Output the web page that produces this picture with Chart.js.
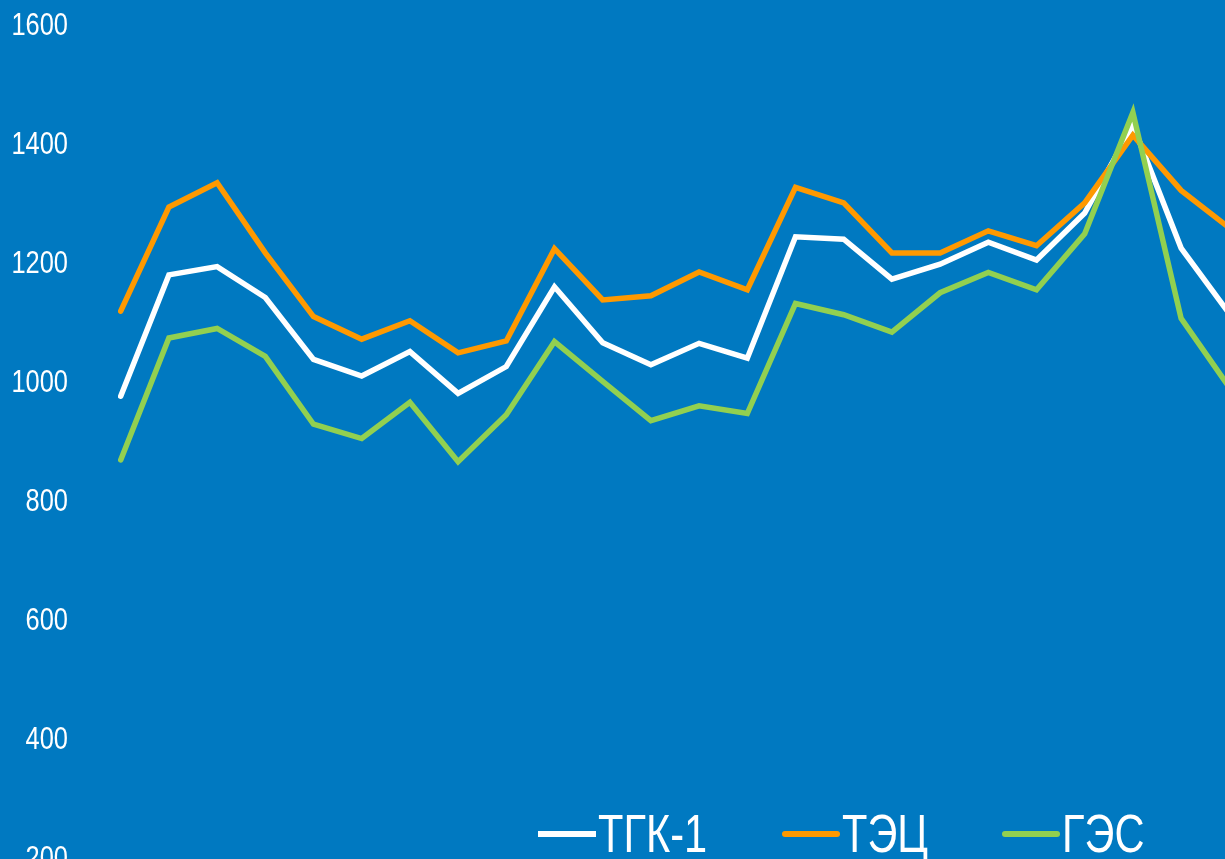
<!DOCTYPE html>
<html>
<head>
<meta charset="utf-8">
<script src="https://cdn.jsdelivr.net/npm/chart.js@4.4.1/dist/chart.umd.min.js"></script>
<style>
  html, body { margin: 0; padding: 0; overflow: hidden; background: #0079c1; }
  #wrap { position: absolute; left: 0; top: 0; width: 1245px; height: 1000px; }
</style>
</head>
<body>
<div id="wrap"><canvas id="chart"></canvas></div>
<script>
const months = [
  "01.2016", "02.2016", "03.2016", "04.2016", "05.2016", "06.2016",
  "07.2016", "08.2016", "09.2016", "10.2016", "11.2016", "12.2016",
  "01.2017", "02.2017", "03.2017", "04.2017", "05.2017", "06.2017",
  "07.2017", "08.2017", "09.2017", "10.2017", "11.2017", "12.2017"
];
const seriesNames = ["ТГК-1", "ТЭЦ", "ГЭС"];
const tgk = [976, 1180, 1194, 1142, 1038, 1010, 1051, 981, 1026, 1160, 1066, 1029,
  1065, 1040, 1244, 1240, 1173, 1198, 1235, 1205, 1284, 1432, 1225, 1115];
const tec = [1119, 1294, 1335, 1217, 1110, 1072, 1103, 1049, 1069, 1224, 1138, 1145,
  1185, 1155, 1327, 1301, 1217, 1217, 1254, 1229, 1301, 1415, 1322, 1259];
const ges = [869, 1074, 1090, 1043, 929, 905, 966, 866, 945, 1068, 1001, 935,
  960, 947, 1132, 1113, 1084, 1150, 1184, 1155, 1249, 1453, 1107, 991];
const yTicks = [0, 200, 400, 600, 800, 1000, 1200, 1400, 1600];
const colors = ["#ffffff", "#ff9900", "#92d050"];

// no narrow face installed, so squeeze Liberation Sans by hand
const FONT = "'Liberation Sans', Arial, sans-serif";

function narrowText(ctx, text, x, y, align, k) {
  ctx.save();
  ctx.translate(x, y);
  ctx.scale(k, 1);
  ctx.textAlign = align;
  ctx.fillText(text, 0, 0);
  ctx.restore();
}

// y labels, placed by the y scale
const yLabels = {
  id: "yLabels",
  afterDraw(chart) {
    const ctx = chart.ctx;
    const scale = chart.scales.y;
    ctx.save();
    ctx.font = "31px " + FONT;
    ctx.textBaseline = "middle";
    ctx.fillStyle = "#ffffff";
    yTicks.forEach(v => {
      narrowText(ctx, String(v), 68, scale.getPixelForValue(v) + 1, "right", 0.82);
    });
    ctx.restore();
  }
};

// legend drawn near the bottom edge, as in the source slide
const bottomLegend = {
  id: "bottomLegend",
  afterDraw(chart) {
    const ctx = chart.ctx;
    const starts = [538, 782, 1002];
    const y = 834;
    ctx.save();
    ctx.font = "54px " + FONT;
    ctx.textBaseline = "alphabetic";
    ctx.fillStyle = "#ffffff";
    chart.data.datasets.forEach((ds, i) => {
      const x = starts[i];
      ctx.strokeStyle = ds.borderColor;
      ctx.lineWidth = 6;
      ctx.lineCap = i === 0 ? "butt" : "round";
      ctx.beginPath();
      ctx.moveTo(x + (i === 0 ? 0 : 3), y);
      ctx.lineTo(x + (i === 0 ? 58 : 55), y);
      ctx.stroke();
      narrowText(ctx, ds.label, x + 60, 852, "left", 0.77);
    });
    ctx.restore();
  }
};

const datasets = [tgk, tec, ges].map((vals, i) => ({
  label: seriesNames[i],
  data: vals,
  borderColor: colors[i],
  backgroundColor: colors[i],
  borderWidth: 5.5,
  borderCapStyle: "round",
  pointRadius: 0,
  tension: 0,
  order: 2 - i,
}));

new Chart(document.getElementById("chart"), {
  type: "line",
  data: { labels: months, datasets },
  options: {
    responsive: true,
    maintainAspectRatio: false,
    animation: false,
    layout: { padding: { top: 25, right: 15.7, bottom: 23, left: 0 } },
    plugins: {
      legend: { display: false },
      tooltip: { enabled: false },
    },
    scales: {
      x: {
        display: false,
        offset: false,
      },
      y: {
        min: 0,
        max: 1600,
        afterFit: axis => { axis.width = 120.7; },
        grid: { display: false, drawTicks: false },
        border: { display: false },
        ticks: { display: false, stepSize: 200 },
      },
    },
  },
  plugins: [yLabels, bottomLegend],
});
</script>
</body>
</html>
